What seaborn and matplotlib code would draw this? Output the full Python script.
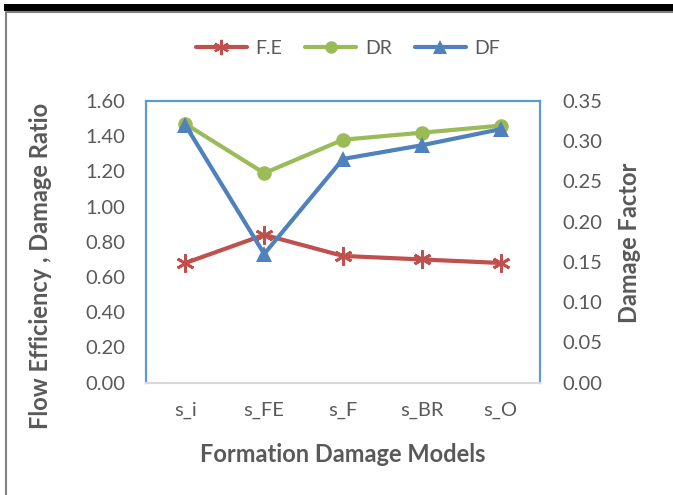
import matplotlib
matplotlib.use("Agg")
import matplotlib.pyplot as plt
from matplotlib.patches import Rectangle
from matplotlib.lines import Line2D
from matplotlib.ticker import FormatStrFormatter
import seaborn as sns
import pandas as pd

# Formation damage models and the three computed indicators
models = ["s_i", "s_FE", "s_F", "s_BR", "s_O"]
flow_efficiency = [0.68, 0.84, 0.72, 0.70, 0.68]
damage_ratio = [1.47, 1.19, 1.38, 1.42, 1.46]
damage_factor = [0.32, 0.16, 0.278, 0.295, 0.315]

left_ticks = [0.0, 0.2, 0.4, 0.6, 0.8, 1.0, 1.2, 1.4, 1.6]
right_ticks = [0.0, 0.05, 0.10, 0.15, 0.20, 0.25, 0.30, 0.35]

RED = "#C0504D"
GREEN = "#9BBB59"
BLUE = "#4F81BD"
FRAME = "#5B9BD5"
TEXT = "#595959"

sns.set_theme(style="white")
plt.rcParams["font.family"] = ["Lato", "DejaVu Sans"]

df = pd.DataFrame({
    "model": models,
    "F.E": flow_efficiency,
    "DR": damage_ratio,
    "DF": damage_factor,
})
df["pos"] = range(len(models))

W, H = 673, 495
fig = plt.figure(figsize=(W / 100, H / 100), dpi=100)
ax = fig.add_axes([146 / W, 1 - 382.7 / H, (540 - 146) / W, (382.7 - 101) / H])
ax2 = ax.twinx()

star = (6, 2, 0)
sns.lineplot(data=df, x="pos", y="F.E", ax=ax, color=RED, lw=3.0,
             marker=star, markersize=13, markeredgewidth=2.0,
             markeredgecolor=RED, sort=False, zorder=3)
sns.lineplot(data=df, x="pos", y="DR", ax=ax, color=GREEN, lw=3.0,
             marker="o", markersize=10.5, markeredgewidth=0,
             sort=False, zorder=2)
sns.lineplot(data=df, x="pos", y="DF", ax=ax2, color=BLUE, lw=3.0,
             marker="^", markersize=12, markeredgewidth=0,
             sort=False, zorder=4)

ax.set_xlim(-0.5, len(models) - 0.5)
ax.set_ylim(0, 1.6)
ax2.set_ylim(0, 0.35)
ax.set_xticks(range(len(models)))
ax.set_xticklabels(models)
ax.set_yticks(left_ticks)
ax2.set_yticks(right_ticks)
ax.yaxis.set_major_formatter(FormatStrFormatter("%.2f"))
ax2.yaxis.set_major_formatter(FormatStrFormatter("%.2f"))

for a in (ax, ax2):
    a.tick_params(length=0, labelsize=14.5, labelcolor=TEXT)
    a.grid(False)
    for side in ("left", "top", "right"):
        a.spines[side].set_color(FRAME)
        a.spines[side].set_linewidth(1.5)
    a.spines["bottom"].set_color("#D9D9D9")
    a.spines["bottom"].set_linewidth(1.5)
ax.tick_params(axis="y", pad=15)
ax2.tick_params(axis="y", pad=16)
ax.tick_params(axis="x", pad=14)

label_style = dict(fontsize=17, fontweight="bold", color=TEXT)
ax.set_xlabel("Formation Damage Models", **label_style)
ax.set_ylabel("Flow Efficiency , Damage Ratio", **label_style)
ax2.set_ylabel("Damage Factor", **label_style)
ax.xaxis.label.set_va("center")
ax.yaxis.label.set_va("center")
ax2.yaxis.label.set_va("center")
ax.xaxis.set_label_coords((343 - 146) / 394, (382.7 - 455) / 281.7)
ax.yaxis.set_label_coords((40 - 146) / 394, (382.7 - 266) / 281.7)
ax2.yaxis.set_label_coords((630 - 146) / 394, (382.7 - 243) / 281.7)

handles = [
    Line2D([], [], color=RED, lw=3.0, marker=star, markersize=11, markeredgewidth=1.6),
    Line2D([], [], color=GREEN, lw=3.0, marker="o", markersize=9, markeredgewidth=0),
    Line2D([], [], color=BLUE, lw=3.0, marker="^", markersize=10, markeredgewidth=0),
]
fig.legend(handles, ["F.E", "DR", "DF"], loc="center", ncol=3,
           bbox_to_anchor=(348 / W, 1 - 48 / H), frameon=False,
           fontsize=14, labelcolor=TEXT, handlelength=2.6,
           handletextpad=0.45, columnspacing=1.2)

# outer frame: dark band on top, grey edges
fig.add_artist(Rectangle((4 / W, 1 - 10.7 / H), 1, 6.7 / H, color="black",
                         transform=fig.transFigure, lw=0))
fig.add_artist(Line2D([6 / W, 1], [1 - 11.5 / H, 1 - 11.5 / H], color="#7F7F7F",
                      lw=1.5, transform=fig.transFigure))
fig.add_artist(Line2D([6 / W, 6 / W], [0, 1 - 11.5 / H], color="#7F7F7F",
                      lw=1.5, transform=fig.transFigure))

fig.savefig("out.png", dpi=100, facecolor="white")
